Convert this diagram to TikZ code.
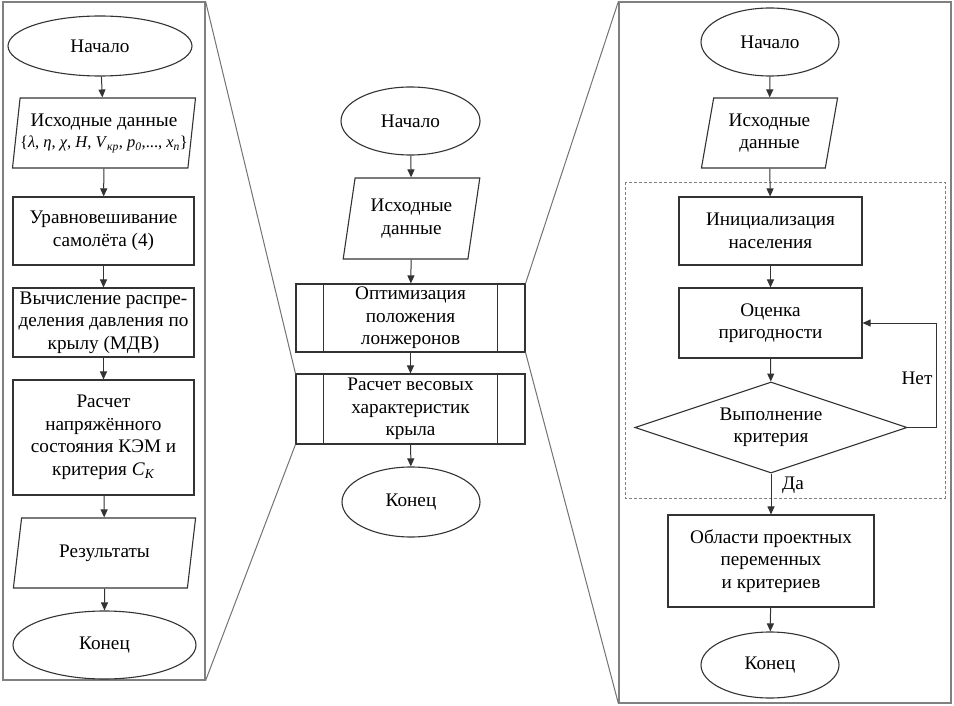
\documentclass[tikz,border=0pt]{standalone}
\usepackage{fontspec}
\setmainfont{Liberation Serif}
\usetikzlibrary{shapes.geometric,arrows.meta}
\begin{document}
\begin{tikzpicture}[x=1pt,y=-1pt,
  every node/.style={font=\fontsize{19.2}{22.5}\selectfont, align=center, inner sep=0pt, text=black},
  term/.style={ellipse, draw=black!80, line width=1.1pt},
  proc/.style={rectangle, draw=black!80, line width=1.1pt},
  iobox/.style={trapezium, trapezium stretches=true, draw=black!80, line width=1.1pt},
  decide/.style={diamond, aspect=3, draw=black!80, line width=1.1pt},
  frame/.style={rectangle, draw=black!50, line width=1.2pt},
  zoomline/.style={draw=black!55, line width=1pt},
  arr/.style={draw=black!80, line width=1pt, -{Triangle[length=8pt,width=7pt]}},
  lbl/.style={font=\fontsize{19.2}{22.5}\selectfont}
]
\useasboundingbox (0,0) rectangle (954,706);
\fill[white] (0,0) rectangle (954,706);

% frames
\node[frame, minimum width=202pt, minimum height=678pt] (LF) at (104,341) {};
\node[frame, minimum width=332pt, minimum height=701pt] (RF) at (785,352.5) {};
\draw[black!50, dashed, dash pattern=on 3pt off 2pt, line width=0.9pt] (625,182) rectangle (945,498);

% left column
\node[term, minimum width=184pt, minimum height=60pt] (L1) at (100,46) {Начало};
\node[iobox, trapezium left angle=79, trapezium right angle=101, minimum width=182pt, minimum height=70pt] (L2) at (104,133)
  {Исходные данные\\[-1pt]{\fontsize{16.5}{19}\selectfont\{\textit{λ}, \textit{η}, \textit{χ}, \textit{H}, \textit{V}\textsubscript{\textit{кр}}, \textit{p}\textsubscript{\textit{0}},..., \textit{x}\textsubscript{\textit{n}}\}}};
\node[proc, minimum width=181pt, minimum height=68pt] (L3) at (103.5,231) {Уравновешивание\\самолёта (4)};
\node[proc, minimum width=181pt, minimum height=69pt] (L4) at (103.5,322.5) {Вычисление распре-\\деления давления по\\крылу (МДВ)};
\node[proc, minimum width=181pt, minimum height=115pt] (L5) at (103.5,437.5) {Расчет\\напряжённого\\состояния КЭМ и\\критерия \textit{C}\textsubscript{\textit{K}}};
\node[iobox, trapezium left angle=75, trapezium right angle=105, minimum width=183pt, minimum height=70pt] (L6) at (104.5,553) {Результаты};
\node[term, minimum width=183pt, minimum height=68pt] (L7) at (104.5,645) {Конец};

\draw[arr] (L1) -- (L2);
\draw[arr] (L2) -- (L3);
\draw[arr] (L3) -- (L4);
\draw[arr] (L4) -- (L5);
\draw[arr] (L5) -- (L6);
\draw[arr] (L6) -- (L7);

% center column
\node[term, minimum width=139pt, minimum height=68pt] (C1) at (410.5,121) {Начало};
\node[iobox, trapezium left angle=77.5, trapezium right angle=102.5, minimum width=137pt, minimum height=81pt] (C2) at (411.5,218.5) {Исходные\\данные};
\node[proc, minimum width=229pt, minimum height=68pt] (C3) at (410.5,318) {Оптимизация\\положения\\лонжеронов};
\node[proc, minimum width=229pt, minimum height=70pt] (C4) at (410.5,409) {Расчет весовых\\характеристик\\крыла};
\node[term, minimum width=138pt, minimum height=70pt] (C5) at (411,502) {Конец};
\foreach \n in {C3,C4}{
  \draw[black!80, line width=1.1pt] ([xshift=28pt]\n.north west) -- ([xshift=28pt]\n.south west);
  \draw[black!80, line width=1.1pt] ([xshift=-28pt]\n.north east) -- ([xshift=-28pt]\n.south east);
}
\draw[arr] (C1) -- (C2);
\draw[arr] (C2) -- (C3);
\draw[arr] (C3) -- (C4);
\draw[arr] (C4) -- (C5);

% zoom lines
\draw[zoomline] (LF.north east) -- (C4.north west);
\draw[zoomline] (LF.south east) -- (C4.south west);
\draw[zoomline] (RF.north west) -- (C3.north east);
\draw[zoomline] (RF.south west) -- (C3.south east);

% right column
\node[term, minimum width=138pt, minimum height=68pt] (R1) at (770,42) {Начало};
\node[iobox, trapezium left angle=77, trapezium right angle=103, minimum width=137pt, minimum height=70pt] (R2) at (769.5,133) {Исходные\\данные};
\node[proc, minimum width=183pt, minimum height=68pt] (R3) at (770.5,231) {Инициализация\\населения};
\node[proc, minimum width=183pt, minimum height=70pt] (R4) at (770.5,323) {Оценка\\пригодности};
\node[decide, minimum width=272pt, minimum height=91pt] (R5) at (771,427.5) {Выполнение\\критерия};
\node[proc, minimum width=206pt, minimum height=92pt] (R6) at (771,561) {Области проектных\\переменных\\и критериев};
\node[term, minimum width=138pt, minimum height=66pt] (R7) at (770,665) {Конец};

\draw[arr] (R1) -- (R2);
\draw[arr] (R2) -- (R3);
\draw[arr] (R3) -- (R4);
\draw[arr] (R4) -- (R5);
\draw[arr] (R5) -- (R6);
\draw[arr] (R6) -- (R7);
\draw[arr] (R5.east) -- ++(29,0) |- (R4.east);
\node[lbl] (no) at (917,378) {Нет};
\node[lbl] (yes) at (793,485) {Да};
\end{tikzpicture}
\end{document}
